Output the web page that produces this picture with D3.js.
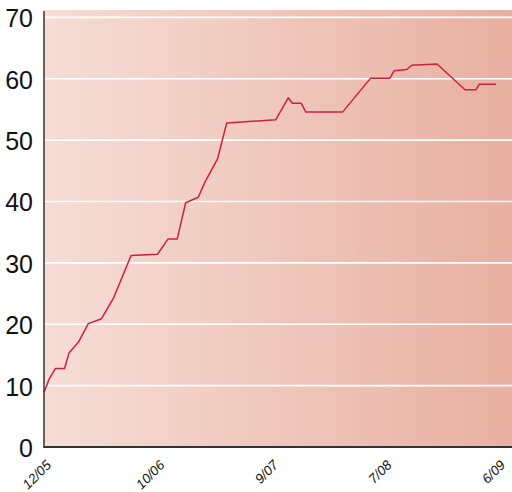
<!DOCTYPE html>
<html>
<head>
<meta charset="utf-8">
<script src="https://cdn.jsdelivr.net/npm/d3@7"></script>
<style>
  html, body { margin: 0; padding: 0; background: #fff; }
  svg { display: block; }
</style>
</head>
<body>
<svg id="chart" width="512" height="492"></svg>
<script>
// Period labels along the bottom, one per unit of the x position scale
const tickLabels = ["12/05", "10/06", "9/07", "7/08", "6/09"];
const tickPos = [0, 1, 2, 3, 4];

// Line vertices: position (in label periods) and value
const xPos = [0, 0.044, 0.101, 0.181, 0.220, 0.304, 0.390, 0.507, 0.611, 0.767,
  1.0, 1.093, 1.174, 1.248, 1.359, 1.419, 1.530, 1.610, 2.041, 2.152,
  2.188, 2.267, 2.306, 2.632, 2.878, 3.048, 3.084, 3.196, 3.240, 3.463,
  3.709, 3.806, 3.833, 3.982];
const values = [8.9, 11.0, 12.8, 12.8, 15.3, 17.1, 20.1, 20.9, 24.2, 31.2,
  31.4, 33.9, 33.9, 39.8, 40.7, 43.2, 47.0, 52.8, 53.3, 56.9,
  56.0, 56.0, 54.6, 54.6, 60.1, 60.1, 61.3, 61.5, 62.2, 62.4,
  58.2, 58.2, 59.1, 59.1];

const yTicks = [0, 10, 20, 30, 40, 50, 60, 70];

const svg = d3.select("#chart");
const plot = { left: 44, right: 512, top: 10, bottom: 447 };

const x = d3.scaleLinear().domain([0, 4]).range([plot.left, 498]);
const y = d3.scaleLinear().domain([0, 71.2]).range([plot.bottom, plot.top]);

// Horizontal pink gradient behind the plot
const defs = svg.append("defs");
const grad = defs.append("linearGradient").attr("id", "bg")
  .attr("x1", "0%").attr("x2", "100%").attr("y1", "0%").attr("y2", "0%");
grad.append("stop").attr("offset", "0%").attr("stop-color", "#f6ddd6");
grad.append("stop").attr("offset", "100%").attr("stop-color", "#e8b0a1");

svg.append("rect")
  .attr("x", plot.left).attr("y", plot.top)
  .attr("width", plot.right - plot.left).attr("height", plot.bottom - plot.top)
  .attr("fill", "url(#bg)");

// White gridlines
svg.append("g").selectAll("line")
  .data(yTicks.filter(d => d > 0))
  .join("line")
  .attr("x1", plot.left).attr("x2", plot.right)
  .attr("y1", d => y(d)).attr("y2", d => y(d))
  .attr("stroke", "#ffffff").attr("stroke-width", 1.6);

// Y tick labels
svg.append("g").selectAll("text")
  .data(yTicks)
  .join("text")
  .attr("x", 33)
  .attr("y", d => y(d) + 10)
  .attr("text-anchor", "end")
  .attr("font-family", "'Liberation Sans Narrow', 'Arial Narrow', sans-serif")
  .attr("font-size", 25)
  .attr("fill", "#111")
  .text(d => d);

// Data line
const line = d3.line()
  .x((d, i) => x(xPos[i]))
  .y(d => y(d));

svg.append("path")
  .datum(values)
  .attr("d", line)
  .attr("fill", "none")
  .attr("stroke", "#d21f3c")
  .attr("stroke-width", 1.5)
  .attr("stroke-linejoin", "round");

// Axis lines
svg.append("line")
  .attr("x1", plot.left).attr("x2", plot.left)
  .attr("y1", plot.top + 1).attr("y2", plot.bottom)
  .attr("stroke", "#333").attr("stroke-width", 1.5);
svg.append("line")
  .attr("x1", plot.left - 0.75).attr("x2", plot.right)
  .attr("y1", plot.bottom).attr("y2", plot.bottom)
  .attr("stroke", "#333").attr("stroke-width", 1.8);

// Rotated period labels
svg.append("g").selectAll("text")
  .data(tickPos)
  .join("text")
  .attr("transform", d => `translate(${x(d) + 8},466) rotate(-45)`)
  .attr("text-anchor", "end")
  .attr("font-family", "'Liberation Sans Narrow', 'Arial Narrow', sans-serif")
  .attr("font-style", "italic")
  .attr("font-size", 13.5)
  .attr("fill", "#111")
  .text((d, i) => tickLabels[i]);
</script>
</body>
</html>
